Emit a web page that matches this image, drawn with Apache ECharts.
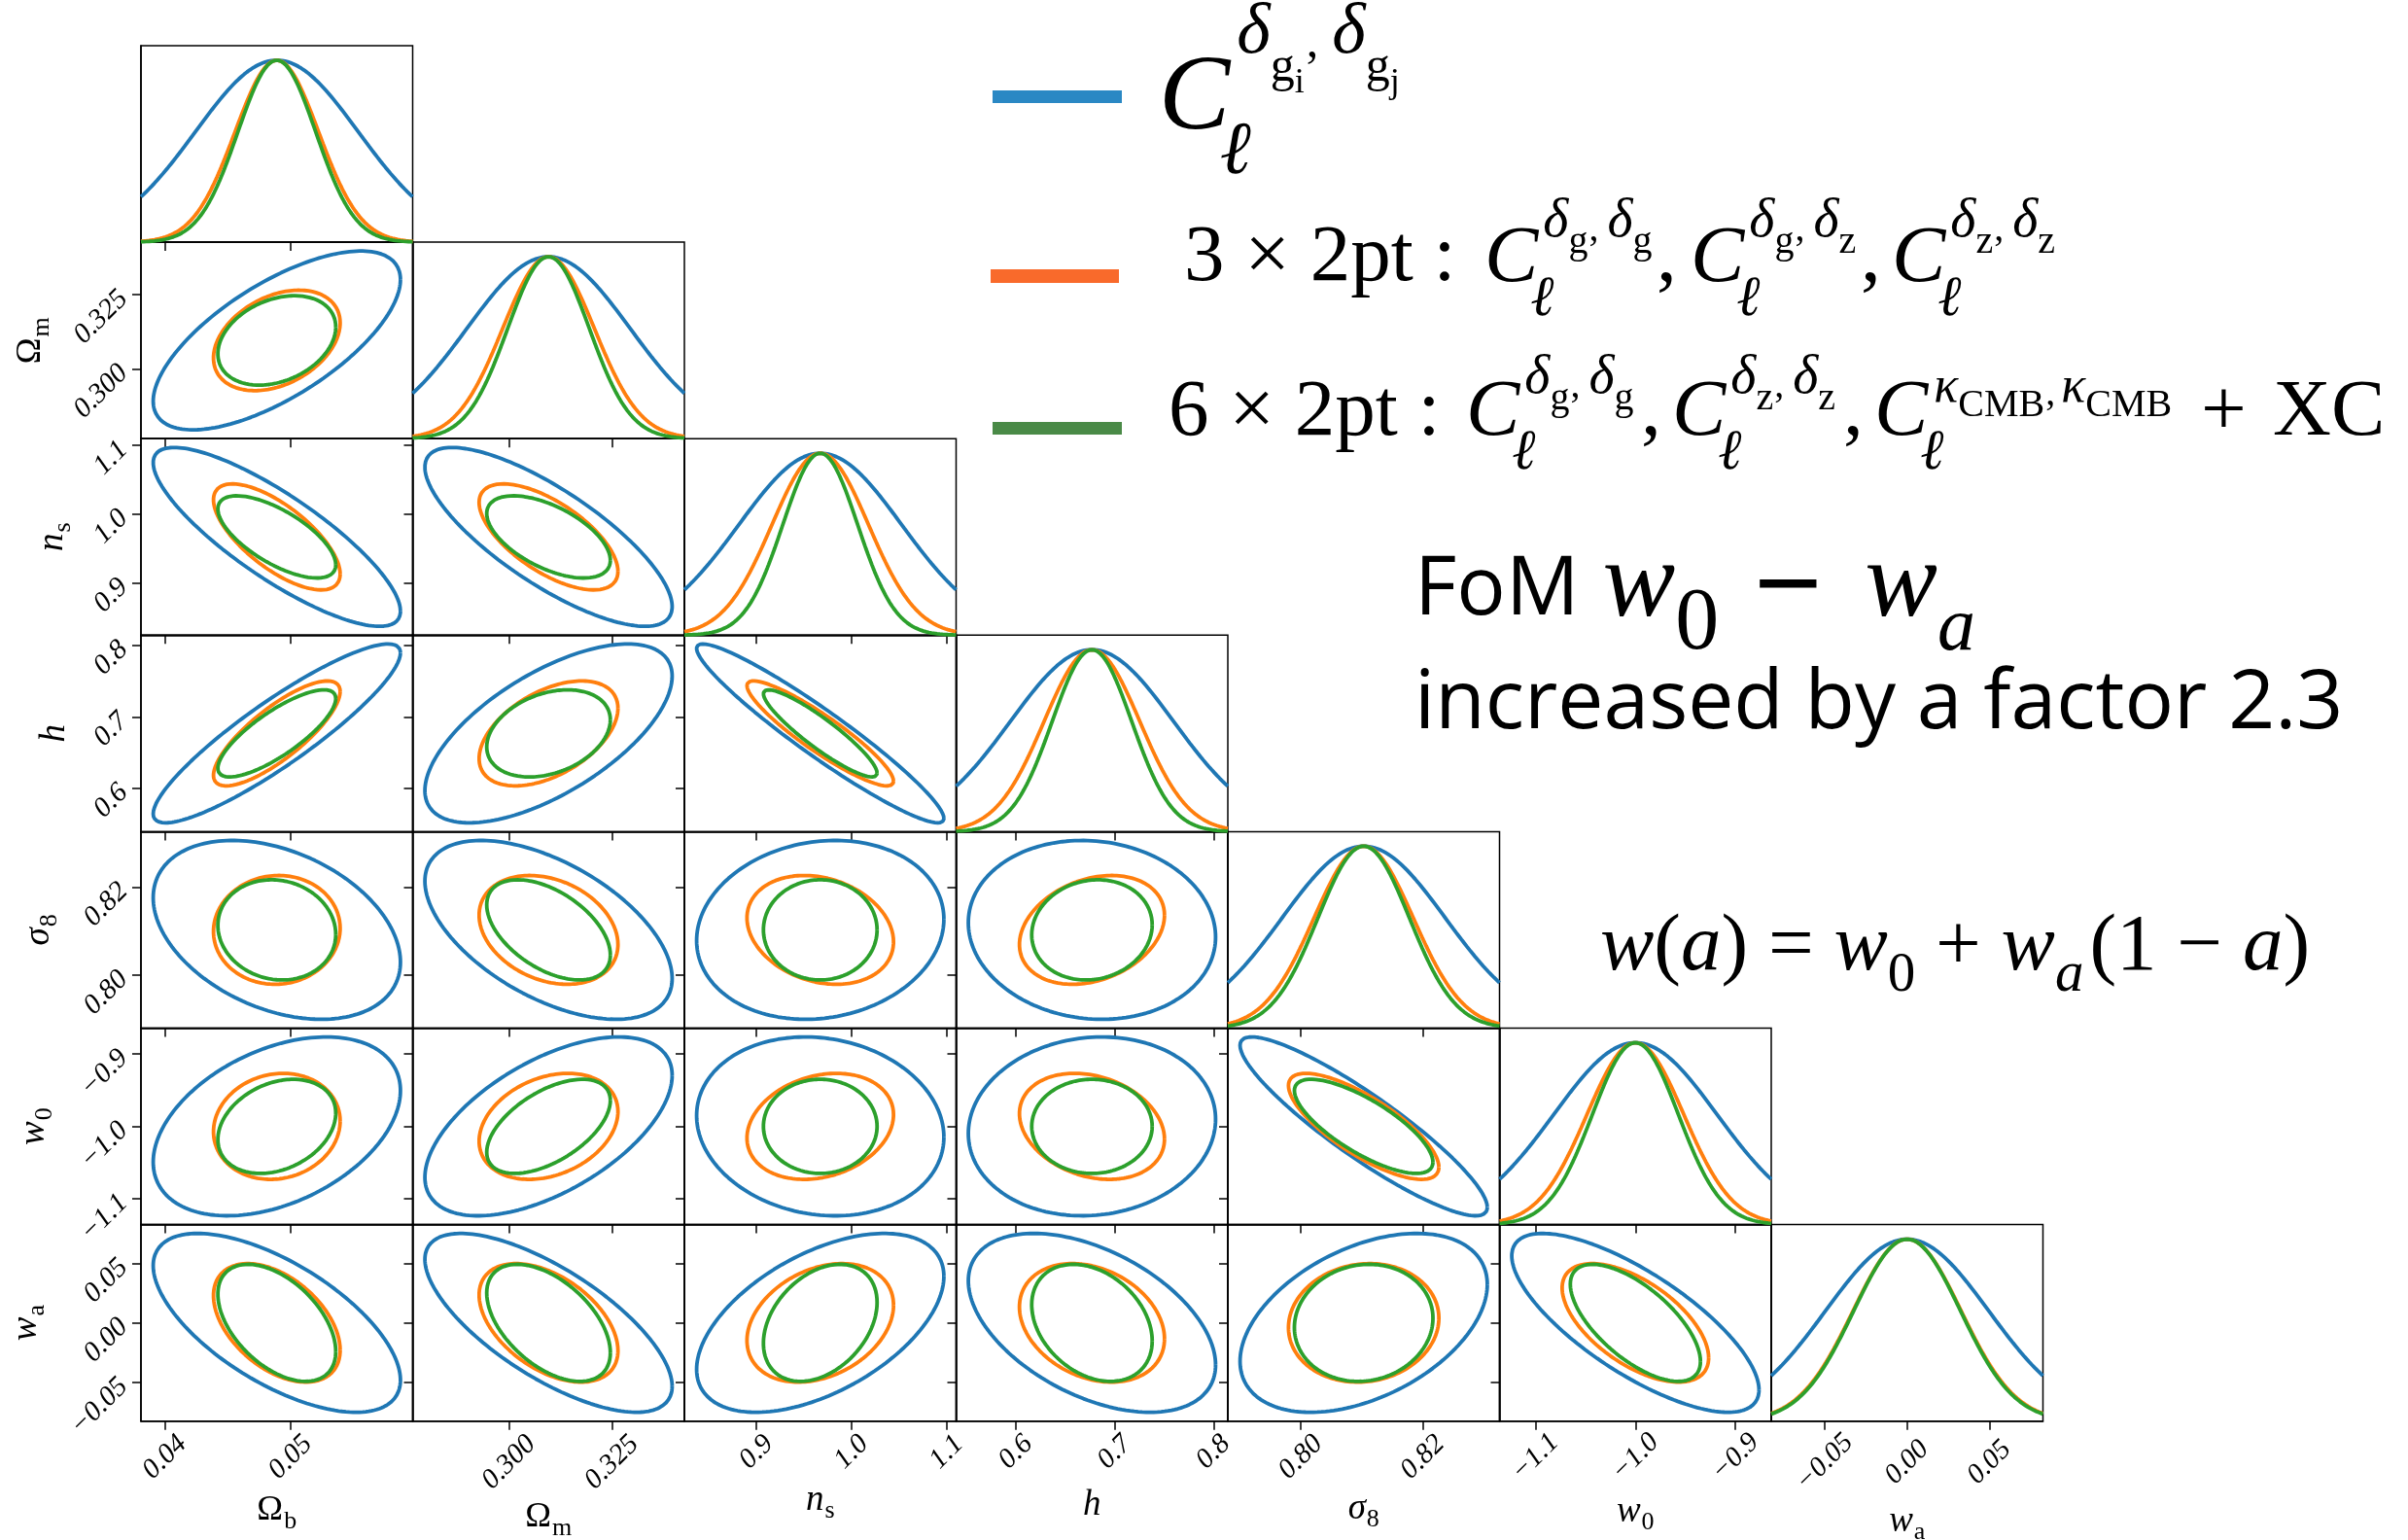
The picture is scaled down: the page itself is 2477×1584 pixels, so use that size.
<!DOCTYPE html>
<html>
<head>
<meta charset="utf-8">
<title>Fisher forecast triangle plot</title>
<script src="https://cdn.jsdelivr.net/npm/echarts@6/dist/echarts.min.js"></script>
<style>
  html, body { margin: 0; padding: 0; background: #fff; }
  #chart { width: 2477px; height: 1584px; }
</style>
</head>
<body>
<div id="chart"></div>
<script>
// parameter order: Omega_b, Omega_m, n_s, h, sigma_8, w0, wa
const fiducial = [0.0489, 0.3096, 0.967, 0.677, 0.8103, -1.0, 0.0]

const tickValues = [
  [0.04, 0.05],
  [0.300, 0.325],
  [0.9, 1.0, 1.1],
  [0.6, 0.7, 0.8],
  [0.80, 0.82],
  [-1.1, -1.0, -0.9],
  [-0.05, 0.00, 0.05]
]
const tickLabels = [
  ['0.04', '0.05'],
  ['0.300', '0.325'],
  ['0.9', '1.0', '1.1'],
  ['0.6', '0.7', '0.8'],
  ['0.80', '0.82'],
  ['\u22121.1', '\u22121.0', '\u22120.9'],
  ['\u22120.05', '0.00', '0.05']
]

// marginal 1-sigma errors
const sigmaGg = [0.00648, 0.0198, 0.0857, 0.0825, 0.01335, 0.0815, 0.0495]
const sigma3x2 = [0.00332, 0.01112, 0.0508, 0.0484, 0.00812, 0.0483, 0.0328]
const sigma6x2 = [0.00309, 0.0099, 0.0394, 0.0402, 0.00748, 0.0429, 0.0324]

// correlation coefficients, lower triangle: (1,0) (2,0) (2,1) (3,0) ... (6,5)
const corrGg = [
  0.68,
  -0.83, -0.78,
  0.90, 0.64, -0.95,
  -0.36, -0.545, 0.12, -0.08,
  0.40, 0.57, -0.12, 0.08, -0.905,
  -0.64, -0.71, 0.52, -0.47, 0.43, -0.75
]
const corr3x2 = [
  0.35,
  -0.70, -0.65,
  0.80, 0.48, -0.91,
  0.03, -0.27, -0.22, 0.27,
  0.10, 0.28, 0.22, -0.24, -0.77,
  -0.46, -0.47, 0.30, -0.27, 0.08, -0.59
]
const corr6x2 = [
  0.30,
  -0.68, -0.57,
  0.80, 0.31, -0.91,
  -0.09, -0.50, 0.00, 0.10,
  0.28, 0.55, 0.00, 0.00, -0.76,
  -0.49, -0.51, 0.35, -0.31, 0.08, -0.66
]

const probes = [
  { name: 'C_l^{dgi,dgj}', color: '#1f77b4', sigma: sigmaGg, corr: corrGg },
  { name: '3x2pt', color: '#ff7f0e', sigma: sigma3x2, corr: corr3x2 },
  { name: '6x2pt', color: '#2ca02c', sigma: sigma6x2, corr: corr6x2 }
]

const serif = '"Liberation Serif", "DejaVu Serif", serif'
const sans = '"Open Sans", Lato, sans-serif'
const symb = '"Liberation Sans", sans-serif'

const nPar = fiducial.length
const rangeInSigma = 1 / 0.6 // axes span fiducial +- 1.667 sigma of the widest probe
const lo = fiducial.map((f, i) => f - rangeInSigma * sigmaGg[i])
const hi = fiducial.map((f, i) => f + rangeInSigma * sigmaGg[i])
const chi2 = 2.3 // 68% for two parameters

const cellW = 279.5
const cellH = 202.1
const left0 = 145
const top0 = 47

// axis titles as rich text
const nameRich = {
  r: { fontFamily: serif, fontSize: 36, lineHeight: 36, verticalAlign: 'top', color: '#000' },
  i: { fontFamily: serif, fontSize: 37, fontStyle: 'italic', lineHeight: 37, verticalAlign: 'top', color: '#000' },
  s: { fontFamily: serif, fontSize: 26, lineHeight: 26, verticalAlign: 'top', padding: [16, 0, 0, 1], color: '#000' }
}
const axisNames = ['{r|Ω}{s|b}', '{r|Ω}{s|m}', '{i|n}{s|s}', '{i|h}', '{i|σ}{s|8}', '{i|w}{s|0}', '{i|w}{s|a}']
const xNameGap = [74, 81, 63, 68, 72, 75, 85]
const yNameGap = [0, 95, 72, 70, 86, 91, 99]

function tickText(p, v) {
  const k = tickValues[p].findIndex(t => Math.abs(t - v) < 1e-9)
  return k < 0 ? '' : tickLabels[p][k]
}

function paramAxis(p, gi, labelled, dim) {
  const maxLen = Math.max(...tickLabels[p].map(s => s.length))
  const label = {
    show: labelled,
    customValues: tickValues[p],
    rotate: 45,
    formatter: v => tickText(p, v),
    fontFamily: serif,
    fontStyle: 'italic',
    fontSize: 29,
    color: '#000'
  }
  if (dim === 'x') {
    label.align = 'center'
    label.verticalAlign = 'middle'
    label.margin = 16 + 5.3 * maxLen
  } else {
    label.margin = 18
  }
  return {
    type: 'value',
    gridIndex: gi,
    min: lo[p],
    max: hi[p],
    axisLine: { show: true, onZero: false, lineStyle: { color: '#000', width: 1.5 } },
    axisTick: { show: true, inside: false, length: 9, customValues: tickValues[p], lineStyle: { color: '#000', width: 1.5 } },
    axisLabel: label,
    splitLine: { show: false },
    name: labelled ? axisNames[p] : '',
    nameLocation: 'middle',
    nameGap: dim === 'x' ? xNameGap[p] : yNameGap[p],
    nameMoveOverlap: false,
    nameTextStyle: { color: '#000', rich: nameRich }
  }
}

function densityAxis(gi) {
  return {
    type: 'value',
    gridIndex: gi,
    min: 0,
    max: 1.08,
    axisLine: { show: true, onZero: false, lineStyle: { color: '#000', width: 1.5 } },
    axisTick: { show: false },
    axisLabel: { show: false },
    splitLine: { show: false }
  }
}

function corrOf(pr, i, j) {
  return pr.corr[i * (i - 1) / 2 + j]
}

function ellipse(pr, i, j) {
  // x is parameter j, y is parameter i
  const k = Math.sqrt(chi2)
  const sx = pr.sigma[j], sy = pr.sigma[i], rho = corrOf(pr, i, j)
  const pts = []
  for (let n = 0; n <= 180; n++) {
    const t = 2 * Math.PI * n / 180
    pts.push([
      fiducial[j] + k * sx * Math.cos(t),
      fiducial[i] + k * sy * (rho * Math.cos(t) + Math.sqrt(1 - rho * rho) * Math.sin(t))
    ])
  }
  return pts
}

function marginal(pr, p) {
  const pts = []
  for (let n = 0; n <= 200; n++) {
    const x = lo[p] + (hi[p] - lo[p]) * n / 200
    const d = (x - fiducial[p]) / pr.sigma[p]
    pts.push([x, Math.exp(-0.5 * d * d)])
  }
  return pts
}

const grids = [], xAxes = [], yAxes = [], series = []
for (let r = 0; r < nPar; r++) {
  for (let c = 0; c <= r; c++) {
    const gi = grids.length
    grids.push({
      left: left0 + c * cellW,
      top: top0 + r * cellH,
      width: cellW,
      height: cellH,
      show: true,
      borderColor: '#000',
      borderWidth: 1.5,
      containLabel: false,
      outerBoundsMode: 'none'
    })
    xAxes.push(paramAxis(c, gi, r === nPar - 1, 'x'))
    yAxes.push(r === c ? densityAxis(gi) : paramAxis(r, gi, c === 0, 'y'))
    probes.forEach((pr, k) => {
      series.push({
        type: 'line',
        name: pr.name,
        xAxisIndex: gi,
        yAxisIndex: gi,
        data: r === c ? marginal(pr, c) : ellipse(pr, r, c),
        showSymbol: false,
        symbol: 'none',
        silent: true,
        z: 2 + k,
        lineStyle: { color: pr.color, width: 3.8 },
        itemStyle: { color: pr.color }
      })
    })
  }
}

// text laid out on explicit baselines: items {t: text, s: size, b: baseline, it: italic, pl: left pad, f: family}
function mathText(x, items) {
  const fac = f => (f === sans ? 0.888 : f === symb ? 0.8465 : 0.8375)
  let top = Infinity
  items.forEach(it => { top = Math.min(top, it.b - fac(it.f || serif) * it.s) })
  top = Math.floor(top) - 2
  const rich = {}
  const text = items.map((it, k) => {
    const f = it.f || serif
    rich['t' + k] = {
      fontFamily: f,
      fontSize: it.s,
      fontStyle: it.it ? 'italic' : 'normal',
      lineHeight: it.s,
      verticalAlign: 'top',
      padding: [it.b - fac(f) * it.s - top, 0, 0, it.pl || 0],
      fill: '#000'
    }
    return '{t' + k + '|' + it.t + '}'
  }).join('')
  return { type: 'text', x: x, y: top, silent: true, style: { text: text, rich: rich, fill: '#000', align: 'left', verticalAlign: 'top' } }
}

function cTerm(x, B, F, sup) {
  return [mathText(x, [{ t: 'C', s: F, b: B, it: true }].concat(sup)),
    mathText(x + 0.57 * F, [{ t: 'ℓ', s: 0.7 * F, b: B + 0.4 * F, it: true }])]
}

function deltaSup(a, b, base) {
  return [
    { t: 'δ', s: 56, b: base, it: true, pl: 5 },
    { t: a, s: 40, b: base + 16 },
    { t: ',', s: 40, b: base + 3, pl: 1 },
    { t: 'δ', s: 56, b: base, it: true, pl: 9 },
    { t: b, s: 40, b: base + 16 }
  ]
}

const graphics = []
// legend
graphics.push({ type: 'rect', shape: { x: 1021, y: 93, width: 133, height: 13 }, style: { fill: '#2a88c4' }, silent: true })
graphics.push({ type: 'rect', shape: { x: 1019, y: 277, width: 132, height: 14 }, style: { fill: '#f96a2b' }, silent: true })
graphics.push({ type: 'rect', shape: { x: 1021, y: 434, width: 133, height: 13 }, style: { fill: '#4a8a47' }, silent: true })

graphics.push(...cTerm(1192, 140, 110, [
  { t: 'δ', s: 74, b: 60, it: true, pl: 7 },
  { t: 'g', s: 50, b: 87 },
  { t: 'i', s: 36, b: 98 },
  { t: ',', s: 50, b: 62, pl: 2 },
  { t: 'δ', s: 74, b: 60, it: true, pl: 14 },
  { t: 'g', s: 50, b: 87 },
  { t: 'j', s: 36, b: 98 }
]))

graphics.push(mathText(1218, [{ t: '3 × 2pt :', s: 83, b: 294 }]))
graphics.push(...cTerm(1527, 295, 83, deltaSup('g', 'g', 247)))
graphics.push(mathText(1704, [{ t: ',', s: 83, b: 295 }]))
graphics.push(...cTerm(1739, 295, 83, deltaSup('g', 'z', 247)))
graphics.push(mathText(1914, [{ t: ',', s: 83, b: 295 }]))
graphics.push(...cTerm(1946, 295, 83, deltaSup('z', 'z', 247)))

graphics.push(mathText(1202, [{ t: '6 × 2pt :', s: 83, b: 453 }]))
graphics.push(...cTerm(1508, 453, 83, deltaSup('g', 'g', 408)))
graphics.push(mathText(1688, [{ t: ',', s: 83, b: 453 }]))
graphics.push(...cTerm(1720, 453, 83, deltaSup('z', 'z', 408)))
graphics.push(mathText(1896, [{ t: ',', s: 83, b: 453 }]))
graphics.push(...cTerm(1928, 453, 83, [
  { t: 'κ', s: 52, b: 417, it: true, pl: 6 },
  { t: 'CMB', s: 40, b: 431 },
  { t: ',', s: 40, b: 419, pl: 1 },
  { t: 'κ', s: 52, b: 417, it: true, pl: 6 },
  { t: 'CMB', s: 40, b: 431 }
]))
graphics.push(mathText(2264, [{ t: '+', s: 83, b: 453 }]))
graphics.push(mathText(2338, [{ t: 'XC', s: 83, b: 453 }]))

// figure of merit note
graphics.push(mathText(1455, [
  { t: 'FoM', s: 84, b: 641, f: sans },
  { t: 'w', s: 112, b: 641, it: true, pl: 24 },
  { t: '0', s: 90, b: 674 },
  { t: '−', s: 120, b: 648, f: symb, pl: 36 },
  { t: 'w', s: 112, b: 641, it: true, pl: 44 },
  { t: 'a', s: 78, b: 674, it: true }
]))
graphics.push(mathText(1455, [{ t: 'increased by a factor 2.3', s: 84, b: 758, f: sans }]))

// equation of state
graphics.push(mathText(1646, [
  { t: 'w', s: 83, b: 1003, it: true },
  { t: '(', s: 83, b: 1003 },
  { t: 'a', s: 83, b: 1003, it: true },
  { t: ') = ', s: 83, b: 1003 },
  { t: 'w', s: 83, b: 1003, it: true },
  { t: '0', s: 57, b: 1023 },
  { t: ' + ', s: 83, b: 1003 },
  { t: 'w', s: 83, b: 1003, it: true },
  { t: 'a', s: 59, b: 1023, it: true },
  { t: '(1 − ', s: 83, b: 1003, pl: 6 },
  { t: 'a', s: 83, b: 1003, it: true },
  { t: ')', s: 83, b: 1003 }
]))

const chart = echarts.init(document.getElementById('chart'), null, { renderer: 'canvas' })
chart.setOption({
  backgroundColor: '#fff',
  animation: false,
  grid: grids,
  xAxis: xAxes,
  yAxis: yAxes,
  series: series,
  graphic: { elements: graphics }
})
</script>
</body>
</html>
